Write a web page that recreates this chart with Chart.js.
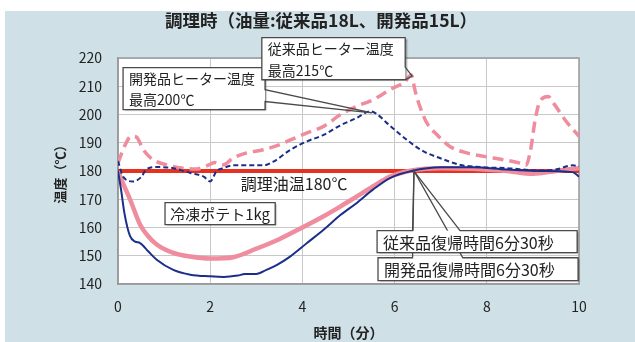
<!DOCTYPE html>
<html lang="ja">
<head>
  <meta charset="UTF-8">
  <title>調理時</title>
  <style>
    body { margin: 0; background: #fff; }
    canvas { display: block; }
  </style>
</head>
<body>
  <canvas id="myChart" width="635" height="342"></canvas>

  <script src="https://cdn.jsdelivr.net/npm/chart.js"></script>

  <script>
    const chartTitle = '調理時（油量:従来品18L、開発品15L）';
    const xTicks = [0, 2, 4, 6, 8, 10];
    const yTicks = [140, 150, 160, 170, 180, 190, 200, 210, 220];

    // 調理油温 (set point)
    const setTime = [0, 10];
    const setTemp = [180, 180];

    // 従来品 oil temperature (pink solid)
    const oldOilTime = [0, 0.1, 0.26, 0.48, 0.65, 0.84, 1.2, 1.57, 2.0, 2.5, 3.0, 3.45, 3.88, 4.46, 4.83, 5.18, 5.53, 5.9, 6.37, 7.0, 7.7, 8.43, 9.0, 9.5, 10];
    const oldOilTemp = [180, 176, 170, 161, 157, 154, 151, 149.7, 149, 149.5, 152.5, 155.5, 159, 164, 167.5, 171, 174.5, 178, 180.2, 181, 180.8, 180, 179, 180, 181];

    // 開発品 oil temperature (navy solid)
    const newOilTime = [0, 0.07, 0.14, 0.26, 0.37, 0.48, 0.66, 0.84, 1.2, 1.57, 2.0, 2.3, 2.6, 2.75, 3.0, 3.22, 3.45, 3.74, 4.1, 4.46, 4.83, 5.18, 5.53, 5.9, 6.37, 7.0, 7.7, 8.43, 9.14, 9.86, 10];
    const newOilTemp = [180, 173, 165, 157, 155, 154.5, 151.5, 148.6, 145, 143.3, 142.7, 142.5, 143, 143.5, 143.5, 145, 146.8, 149.8, 154.5, 159.2, 164.5, 168.7, 173.4, 177.5, 180, 181.3, 181.3, 180.5, 180, 179.6, 178];

    // 従来品 heater temperature (pink dashed)
    const oldHeatTime = [0, 0.14, 0.29, 0.4, 0.55, 0.76, 1.05, 1.41, 1.7, 1.92, 2.1, 2.28, 2.5, 2.79, 3.15, 3.45, 3.74, 4.1, 4.46, 4.83, 5.18, 5.53, 5.9, 6.23, 6.36, 6.45, 6.56, 6.7, 6.92, 7.2, 7.57, 7.93, 8.36, 8.72, 8.85, 8.95, 9.05, 9.15, 9.33, 9.47, 9.72, 10];
    const oldHeatTemp = [182.8, 188.7, 192.3, 192, 187.5, 184, 182.2, 181, 180.7, 181.8, 183, 182.2, 184.6, 186.4, 187.5, 189, 191, 193.5, 195.8, 200, 202.9, 205.2, 208.8, 211.7, 214, 208, 202.3, 197, 192.8, 188.7, 186.4, 185.2, 184, 182.8, 182, 187.5, 198.2, 204.6, 206.4, 203.5, 197.6, 192.3];

    // 開発品 heater temperature (navy dashed)
    const newHeatTime = [0, 0.11, 0.33, 0.51, 0.61, 0.84, 1.2, 1.57, 1.86, 2.0, 2.14, 2.28, 2.5, 2.86, 3.15, 3.37, 3.74, 4.1, 4.46, 4.83, 5.18, 5.47, 5.6, 5.9, 6.26, 6.62, 6.98, 7.41, 7.85, 8.43, 9.14, 9.5, 9.86, 10];
    const newHeatTemp = [183.5, 178, 176.3, 178, 180.5, 181.4, 181, 179.3, 178, 176.3, 180, 181, 182, 182, 182, 183.3, 187.5, 190.5, 192.8, 196.2, 198.8, 201.1, 200.3, 196, 191.1, 187, 184.6, 182.2, 181.4, 181, 180.2, 180.5, 182, 181.7];

    // callout boxes, in data units (minutes, °C)
    const notes = [
      { lines: ['開発品ヒーター温度', '最高200℃'], box: [0.11, 3.19, 216.6, 201.7], size: 14, edge: 'right', base: [208.8, 204.6], tip: [5.51, 200.6] },
      { lines: ['従来品ヒーター温度', '最高215℃'], box: [3.12, 6.23, 227.2, 212.3], size: 14, edge: 'right', base: [216.8, 212.3], tip: [6.38, 213.6] },
      { lines: ['冷凍ポテト1kg'], box: [1.02, 3.41, 168.8, 161.0], size: 15, center: true },
      { lines: ['開発品復帰時間6分30秒'], box: [5.64, 9.98, 149.3, 141.2], size: 16, edge: 'top', base: [6.39, 7.48], tip: [6.42, 180] },
      { lines: ['従来品復帰時間6分30秒'], box: [5.62, 9.96, 158.9, 151.1], size: 16, edge: 'top', base: [6.39, 7.42], tip: [6.42, 180] }
    ];
    const oilLabel = { text: '調理油温180℃', at: [3.82, 175.3], size: 16 };

    const fontFamily = "'Noto Sans CJK JP', 'Noto Sans', sans-serif";
    Chart.defaults.font.family = fontFamily;
    Chart.defaults.color = '#222';

    const toPoints = (xs, ys) => xs.map((x, i) => ({ x: x, y: ys[i] }));

    const backdrop = {
      id: 'backdrop',
      beforeDraw(chart) {
        const { ctx, chartArea: a } = chart;
        ctx.save();
        ctx.fillStyle = '#fff';
        ctx.fillRect(0, 0, chart.width, chart.height);
        ctx.fillStyle = '#cfe0e7';
        ctx.fillRect(5, 11, chart.width - 5, chart.height - 11);
        ctx.fillStyle = '#fff';
        ctx.fillRect(a.left, a.top, a.width, a.height);
        ctx.font = 'bold 17.5px ' + fontFamily;
        ctx.fillStyle = '#222';
        ctx.textAlign = 'center';
        ctx.textBaseline = 'middle';
        ctx.fillText(chartTitle, 321, 20);
        ctx.restore();
      },
      beforeDatasetsDraw(chart) {
        const { ctx, chartArea: a } = chart;
        ctx.save();
        ctx.strokeStyle = '#9a9a9a';
        ctx.lineWidth = 1.5;
        ctx.strokeRect(a.left, a.top, a.width, a.height);
        ctx.restore();
      }
    };

    const callouts = {
      id: 'callouts',
      afterDatasetsDraw(chart) {
        const { ctx } = chart;
        const xs = chart.scales.x, ys = chart.scales.y;
        ctx.save();
        notes.forEach((n) => {
          const l = xs.getPixelForValue(n.box[0]), r = xs.getPixelForValue(n.box[1]);
          const t = ys.getPixelForValue(n.box[2]), b = ys.getPixelForValue(n.box[3]);
          // box body with a soft shadow
          ctx.save();
          ctx.shadowColor = 'rgba(40,40,40,0.55)';
          ctx.shadowOffsetX = 1.5;
          ctx.shadowOffsetY = 1.5;
          ctx.shadowBlur = 1.5;
          ctx.fillStyle = '#fff';
          ctx.fillRect(l, t, r - l, b - t);
          ctx.restore();
          // outline, with pointer
          ctx.beginPath();
          ctx.moveTo(l, t);
          if (n.edge === 'top') {
            ctx.lineTo(xs.getPixelForValue(n.base[0]), t);
            ctx.lineTo(xs.getPixelForValue(n.tip[0]), ys.getPixelForValue(n.tip[1]));
            ctx.lineTo(xs.getPixelForValue(n.base[1]), t);
          }
          ctx.lineTo(r, t);
          if (n.edge === 'right') {
            ctx.lineTo(r, ys.getPixelForValue(n.base[0]));
            ctx.lineTo(xs.getPixelForValue(n.tip[0]), ys.getPixelForValue(n.tip[1]));
            ctx.lineTo(r, ys.getPixelForValue(n.base[1]));
          }
          ctx.lineTo(r, b);
          ctx.lineTo(l, b);
          ctx.closePath();
          ctx.strokeStyle = '#4a4a4a';
          ctx.lineWidth = 1.3;
          ctx.stroke();
          // text
          ctx.fillStyle = '#222';
          ctx.font = n.size + 'px ' + fontFamily;
          ctx.textBaseline = 'middle';
          ctx.textAlign = n.center ? 'center' : 'left';
          const tx = n.center ? (l + r) / 2 : l + 6;
          const step = (b - t) / n.lines.length;
          n.lines.forEach((line, i) => {
            ctx.fillText(line, tx, t + step * (i + 0.5) + 1);
          });
        });
        ctx.font = oilLabel.size + 'px ' + fontFamily;
        ctx.textAlign = 'center';
        ctx.textBaseline = 'middle';
        ctx.fillStyle = '#222';
        ctx.fillText(oilLabel.text, xs.getPixelForValue(oilLabel.at[0]), ys.getPixelForValue(oilLabel.at[1]));
        ctx.restore();
      }
    };

    new Chart(document.getElementById('myChart'), {
      type: 'line',
      data: {
        datasets: [
          {
            label: '従来品 油温',
            data: toPoints(oldOilTime, oldOilTemp),
            borderColor: '#ef8c9d',
            borderWidth: 4.5,
            cubicInterpolationMode: 'monotone',
            pointRadius: 0,
            order: 4
          },
          {
            label: '開発品 油温',
            data: toPoints(newOilTime, newOilTemp),
            borderColor: '#1b2f88',
            borderWidth: 2,
            cubicInterpolationMode: 'monotone',
            pointRadius: 0,
            order: 1
          },
          {
            label: '従来品ヒーター温度',
            data: toPoints(oldHeatTime, oldHeatTemp),
            borderColor: '#ef8c9d',
            borderWidth: 3.5,
            borderDash: [11, 6],
            cubicInterpolationMode: 'monotone',
            pointRadius: 0,
            order: 3
          },
          {
            label: '開発品ヒーター温度',
            data: toPoints(newHeatTime, newHeatTemp),
            borderColor: '#1b2f88',
            borderWidth: 2,
            borderDash: [5, 3],
            cubicInterpolationMode: 'monotone',
            pointRadius: 0,
            order: 2
          },
          {
            label: '調理油温',
            data: toPoints(setTime, setTemp),
            borderColor: '#e5311f',
            borderWidth: 4,
            pointRadius: 0,
            order: 5
          }
        ]
      },
      options: {
        responsive: false,
        animation: false,
        devicePixelRatio: 1,
        layout: { padding: { left: 0, right: 56, top: 58, bottom: 0 } },
        plugins: {
          legend: { display: false },
          title: { display: false },
          tooltip: { enabled: false }
        },
        scales: {
          x: {
            type: 'linear',
            min: xTicks[0],
            max: xTicks[xTicks.length - 1],
            afterBuildTicks: (s) => { s.ticks = xTicks.map((v) => ({ value: v })); },
            afterFit: (s) => { s.height = 58; },
            ticks: { padding: 14, font: { size: 14 }, color: '#222' },
            grid: { color: '#c8c8c8', drawTicks: false },
            border: { color: '#9a9a9a', width: 1.5 },
            title: { display: true, text: '時間（分）', font: { size: 14, weight: 'bold' }, color: '#222', padding: { top: 0, bottom: 1 } }
          },
          y: {
            min: yTicks[0],
            max: yTicks[yTicks.length - 1],
            afterBuildTicks: (s) => { s.ticks = yTicks.map((v) => ({ value: v })); },
            afterFit: (s) => { s.width = 118; },
            ticks: { padding: 16, font: { size: 14 }, color: '#222' },
            grid: { color: '#c8c8c8', drawTicks: false },
            border: { color: '#9a9a9a', width: 1.5 },
            title: { display: true, text: '温度（℃）', font: { size: 13, weight: 'bold' }, color: '#222', padding: { top: 52, bottom: 0 } }
          }
        }
      },
      plugins: [backdrop, callouts]
    });
  </script>
</body>

</html>
